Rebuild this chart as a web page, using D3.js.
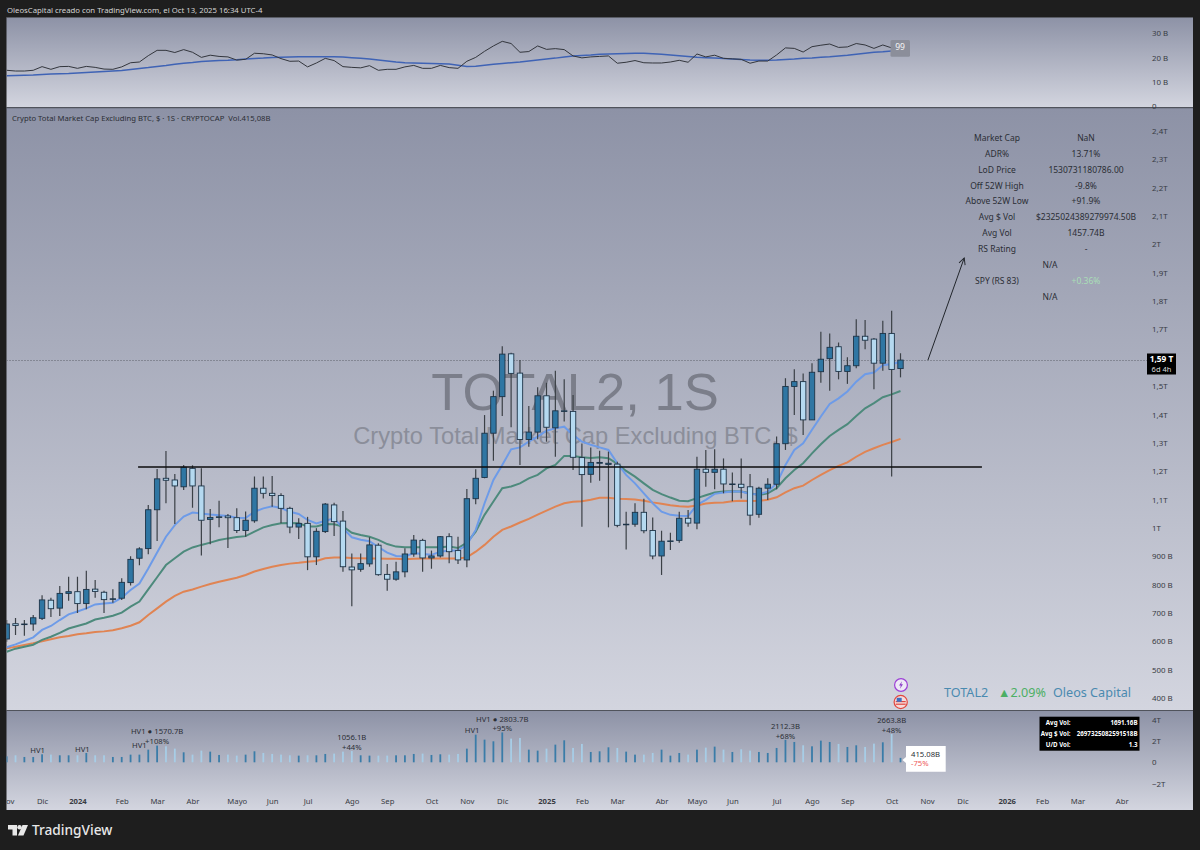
<!DOCTYPE html>
<html>
<head>
<meta charset="utf-8">
<script src="https://cdn.jsdelivr.net/npm/d3@7/dist/d3.min.js"></script>
<style>
html, body { margin: 0; padding: 0; background: #1e1e1e; }
svg { display: block; }
text { font-family: "Noto Sans", sans-serif; }
.axis path, .axis line { display: none; }
</style>
</head>
<body>
<div id="chart"></div>
<script>
// weekly candles, billions of dollars, first week is 2023-11-06
var opens = [608,662,660,661,681,745,717,769,775,733,784,773,749,752,807,893,927,1064,1175,1169,1145,1210,1148,1030,1038,1042,1036,991,1025,1140,1122,1114,1069,1003,1016,898,987,1081,1024,862,854,873,939,836,819,845,908,956,894,901,969,920,887,1103,1178,1334,1463,1614,1546,1312,1338,1466,1353,1411,1411,1248,1189,1228,1224,1225,1012,1013,1055,991,901,953,956,1034,1017,1207,1196,1207,1154,1154,1145,1048,1140,1154,1297,1499,1516,1381,1551,1597,1639,1552,1572,1676,1666,1581,1686,1562];
var highs = [675,682,675,693,762,754,795,828,828,849,816,778,784,822,900,932,1081,1208,1271,1190,1222,1221,1210,1067,1096,1049,1069,1058,1181,1181,1183,1122,1075,1034,1039,999,1088,1089,1060,910,910,967,946,873,881,928,975,962,920,971,981,969,1137,1207,1398,1484,1641,1618,1592,1430,1496,1512,1554,1524,1469,1298,1284,1272,1269,1233,1057,1087,1103,1037,990,983,1057,1063,1251,1275,1277,1245,1195,1245,1190,1145,1175,1322,1528,1560,1545,1581,1692,1686,1654,1602,1736,1733,1670,1731,1766,1616];
var lows = [598,622,620,637,675,686,689,743,700,713,754,700,736,746,797,868,907,954,1087,1014,1134,1071,903,942,1002,929,982,969,1018,1104,1075,1016,981,961,851,869,982,971,845,724,845,863,831,778,814,826,898,845,856,896,875,873,861,1083,1175,1237,1395,1355,1222,1286,1313,1304,1251,1375,1204,1004,1159,1166,1002,1002,924,1004,981,889,834,922,948,1004,995,1145,1136,1122,1094,1104,1009,1036,1098,1136,1275,1398,1328,1381,1512,1484,1524,1508,1563,1630,1489,1554,1181,1531];
var closes = [661,656,661,683,746,715,769,775,733,783,776,747,750,808,889,926,1064,1173,1168,1148,1214,1148,1027,1037,1039,1036,991,1027,1140,1122,1114,1069,1003,1016,898,988,1084,1022,863,852,874,940,835,819,845,908,957,894,901,969,916,887,1103,1175,1334,1463,1613,1545,1312,1338,1466,1355,1413,1413,1249,1188,1231,1231,1228,1009,1013,1055,990,901,953,954,1034,1017,1207,1196,1207,1155,1155,1143,1045,1140,1154,1297,1499,1516,1381,1549,1595,1637,1552,1572,1676,1662,1581,1686,1559,1592];

// moving averages on the price pane
var emaFast = [579,589,601,614,640,654,675,695,705,716,730,733,736,754,781,804,857,913,969,1010,1040,1054,1051,1047,1045,1042,1036,1035,1057,1069,1076,1070,1057,1049,1028,1016,1025,1034,999,967,958,953,932,913,901,899,911,908,905,916,920,920,940,993,1087,1169,1222,1277,1284,1304,1322,1343,1351,1357,1328,1304,1293,1284,1275,1228,1187,1157,1122,1087,1057,1046,1043,1042,1081,1099,1120,1125,1128,1128,1120,1119,1128,1157,1222,1275,1298,1346,1393,1437,1457,1481,1516,1542,1548,1574,1578,1585];
var emaMid = [563,574,581,588,605,616,630,645,654,663,677,683,690,701,722,740,783,826,869,893,916,931,940,948,957,963,968,971,987,1002,1010,1016,1017,1016,1005,1005,1014,1013,1005,983,975,969,958,943,934,932,932,932,932,932,934,929,948,987,1046,1093,1140,1146,1157,1175,1187,1210,1222,1254,1254,1249,1247,1249,1246,1226,1201,1181,1157,1134,1119,1107,1096,1094,1105,1115,1125,1128,1129,1128,1122,1116,1122,1140,1175,1204,1228,1263,1295,1324,1346,1366,1395,1422,1440,1461,1471,1483];
var emaSlow = [575,581,587,593,600,607,614,619,625,628,633,635,639,646,655,667,693,716,740,760,775,783,793,802,810,817,824,834,846,855,863,869,874,877,881,883,893,896,896,894,893,892,892,891,891,889,891,892,892,892,892,892,896,916,940,969,993,1005,1019,1032,1047,1061,1075,1087,1092,1094,1099,1106,1106,1103,1102,1100,1096,1090,1085,1080,1076,1075,1079,1086,1089,1090,1094,1096,1095,1096,1099,1108,1125,1140,1149,1169,1187,1204,1219,1231,1251,1268,1281,1293,1303,1314];

// volume in billions
var volumes = [563,657,500,500,751,720,657,657,657,876,657,657,500,500,720,720,1189,1570.7,1502,1283,939,720,1095,1001,689,720,626,720,1033,876,783,720,657,626,657,657,783,814,1000,1056.1,657,626,626,626,657,657,783,814,689,751,720,783,1283,2598,2128,1972,2803.7,2222,2285,1189,1096,1283,1659,2066,1346,1722,970,1033,1408,1346,1002,720,720,876,1189,626,876,720,1189,1377,1471,1189,970,1221,1096,970,876,1346,2112.3,1909,1596,1502,2035,1909,1722,1440,1596,1440,1753,1878,2663.8,415.08];

// top pane
var topLine = [14.8,14.5,14.5,14.8,16.3,15.2,16.3,16.4,15.6,16.4,16.0,15.3,15.2,16.2,17.9,18.2,20.8,23.0,23.0,22.1,23.3,22.2,20.1,21.0,20.5,20.3,19.0,19.3,21.8,21.6,21.1,19.6,18.5,18.6,16.2,17.8,19.7,18.8,16.3,16.0,15.8,16.7,14.8,15.2,15.2,16.2,16.8,15.6,15.6,16.8,15.9,15.6,18.5,20.1,22.6,24.8,26.7,25.8,22.2,22.5,24.8,23.4,23.7,23.3,20.7,19.9,20.3,20.5,20.7,17.7,18.1,18.8,17.9,17.8,17.8,18.2,18.9,18.1,21.5,20.3,21.0,19.7,19.5,19.3,17.7,18.6,18.6,21.1,24.0,23.8,22.3,24.5,25.1,25.6,24.2,24.4,25.8,25.2,23.8,25.2,24.0,23.7];
var topAvg = [12.6,12.7,12.8,12.9,13.1,13.3,13.4,13.5,13.7,13.9,14.1,14.3,14.5,14.7,15.1,15.5,15.9,16.4,16.8,17.3,17.7,18.0,18.4,18.6,18.8,18.9,19.1,19.4,19.6,19.8,20.1,20.2,20.3,20.4,20.4,20.4,20.4,20.4,20.3,20.0,19.7,19.4,19.0,18.6,18.2,17.9,17.8,17.7,17.6,17.5,17.4,16.9,16.4,16.5,16.9,17.3,17.6,17.9,18.2,18.6,19.0,19.4,19.8,20.3,20.7,20.9,21.1,21.4,21.5,21.6,21.7,21.8,21.8,21.6,21.4,21.1,20.8,20.5,20.2,20.0,19.8,19.6,19.4,19.2,19.0,18.9,18.9,19.0,19.2,19.4,19.7,19.9,20.2,20.4,20.7,21.0,21.4,21.8,22.2,22.4,22.7,22.9];

var priceTicks = [400,500,600,700,800,900,1000,1100,1200,1300,1400,1500,1700,1800,1900,2000,2100,2200,2300,2400];
var volTicks = [-2000,0,2000,4000];
var topTicks = [0,10,20,30];
var monthNames = ['Ene','Feb','Mar','Abr','Mayo','Jun','Jul','Ago','Sep','Oct','Nov','Dic'];

var tableLabels = ['Market Cap','ADR%','LoD Price','Off 52W High','Above 52W Low','Avg $ Vol','Avg Vol','RS Rating'];
var tableValues = ['NaN','13.71%','1530731180786.00','-9.8%','+91.9%','$2325024389279974.50B','1457.74B','-'];

// [week index, volume level the text sits on, text]
var volNotes = [
    [3.5, 1193, 'HV1'], [8.55, 1286, 'HV1'], [15, 1634, 'HV1'],
    [17, 2911, 'HV1 ● 1570.7B'], [17, 2038, '+108%'],
    [39, 2347, '1056.1B'], [39, 1474, '+44%'],
    [52.6, 3005, 'HV1'], [56, 4103, 'HV1 ● 2803.7B'], [56, 3192, '+95%'],
    [88, 3380, '2112.3B'], [88, 2507, '+68%'],
    [100, 3981, '2663.8B'], [100, 3071, '+48%']
];
var statsRows = [['Avg Vol:', '1691.16B'], ['Avg $ Vol:', '2697325082591518B'], ['U/D Vol:', '1.3']];

var levelLine = {from: 14.85, to: 110.2, value: 1215};
var arrowLine = {from: 104.1, to: 108.2, valueFrom: 1592, valueTo: 1952};
var lastPrice = 1592;

var width = 1200, height = 850;
var paneLeft = 6.5, paneRight = 1193;
var candleWidth = 5.4;
var upColor = '#2f76a3', downColor = '#b5d9f0', candleStroke = '#1d3347', wickColor = '#3b4046';
var smallFont = '7.7px', axisColor = '#383b43';

var firstWeek = new Date(2023, 10, 6);
var weeks = d3.range(opens.length).map(function (i) { return d3.timeMonday.offset(firstWeek, i); });

var x = d3.scaleLinear().domain([0, 101]).range([6.67, 900.5]);
function weekIndex(date) { return Math.round((date - firstWeek) / (7 * 864e5)); }

var yPrice = d3.scaleLinear().domain([400, 2400]).range([698, 131]);
var yVol = d3.scaleLinear().domain([-2000, 4000]).range([783.6, 719.7]);
var yTop = d3.scaleLinear().domain([0, 30]).range([106.3, 33.3]);

var svg = d3.select('#chart').append('svg').attr('width', width).attr('height', height);
svg.append('rect').attr('width', width).attr('height', height).style('fill', '#1e1e1e');

var defs = svg.append('defs');
var grad = defs.append('linearGradient').attr('id', 'paneFill').attr('x1', 0).attr('x2', 0).attr('y1', 0).attr('y2', 1);
grad.append('stop').attr('offset', '0%').attr('stop-color', '#8d92a6');
grad.append('stop').attr('offset', '100%').attr('stop-color', '#d3d5df');
defs.append('clipPath').attr('id', 'paneClip').append('rect').attr('x', paneLeft).attr('y', 0).attr('width', paneRight - paneLeft).attr('height', height);
var arrowHead = defs.append('marker').attr('id', 'arrowHead').attr('viewBox', '0 0 10 10').attr('refX', 9).attr('refY', 5)
    .attr('markerWidth', 8).attr('markerHeight', 8).attr('orient', 'auto-start-reverse');
arrowHead.append('path').attr('d', 'M1,1 L9,5 L1,9').style('fill', 'none').style('stroke', '#22262c').style('stroke-width', 1.2);

// panes
[[17.5, 107.5], [108, 710.5], [711, 810]].forEach(function (p) {
    svg.append('rect').attr('x', paneLeft).attr('y', p[0]).attr('width', paneRight - paneLeft).attr('height', p[1] - p[0]).style('fill', 'url(#paneFill)');
});
svg.append('line').attr('x1', paneLeft).attr('x2', paneRight).attr('y1', 17.5).attr('y2', 17.5).style('stroke', '#5a5d66');
svg.append('line').attr('x1', paneLeft).attr('x2', paneRight).attr('y1', 107.7).attr('y2', 107.7).style('stroke', '#50535c').style('stroke-width', 1.2);
svg.append('line').attr('x1', paneLeft).attr('x2', paneRight).attr('y1', 710.5).attr('y2', 710.5).style('stroke', '#50535c').style('stroke-width', 1.2);

var plot = svg.append('g').attr('clip-path', 'url(#paneClip)');

// top pane
var topLineGen = d3.line().x(function (d, i) { return x(i); }).y(function (d) { return yTop(d); });
plot.append('path').attr('d', topLineGen(topAvg)).style('fill', 'none').style('stroke', '#3f63b5').style('stroke-width', 1.5);
plot.append('path').attr('d', topLineGen(topLine)).style('fill', 'none').style('stroke', '#33363d').style('stroke-width', 1);
plot.append('rect').attr('x', 890.5).attr('y', 40).attr('width', 19.5).attr('height', 16.7).attr('rx', 1.5).style('fill', '#8b8e9a');
plot.append('text').attr('x', 900).attr('y', 50).attr('text-anchor', 'middle').style('font-size', '8.5px').style('fill', '#f4f4f4').text(d3.format('d')(99));

// watermark
plot.append('text').attr('x', 575).attr('y', 410).attr('text-anchor', 'middle').style('font-family', '"Liberation Sans"').style('font-size', '52.6px').style('fill', '#7b7e8a').text('TOTAL2, 1S');
plot.append('text').attr('x', 575.5).attr('y', 444).attr('text-anchor', 'middle').style('font-family', '"Liberation Sans"').style('font-size', '23.7px').style('fill', '#8b8e9a').text('Crypto Total Market Cap Excluding BTC, $');

// last price line
plot.append('line').attr('x1', paneLeft).attr('x2', 1147).attr('y1', Math.round(yPrice(lastPrice)) + 0.5).attr('y2', Math.round(yPrice(lastPrice)) + 0.5)
    .style('stroke', '#5d606a').style('stroke-dasharray', '1,2').style('stroke-width', 1);

// moving averages
var emaLine = d3.line().x(function (d, i) { return x(i); }).y(function (d) { return yPrice(d); }).curve(d3.curveLinear);
plot.append('path').attr('d', emaLine(emaSlow)).style('fill', 'none').style('stroke', '#e08453').style('stroke-width', 2);
plot.append('path').attr('d', emaLine(emaMid)).style('fill', 'none').style('stroke', '#4d8a7c').style('stroke-width', 2);
plot.append('path').attr('d', emaLine(emaFast)).style('fill', 'none').style('stroke', '#6d9be8').style('stroke-width', 2);

// candles
var candles = plot.selectAll('.candle').data(weeks).enter().append('g').attr('class', 'candle');
candles.append('line')
    .attr('x1', function (d, i) { return x(i); }).attr('x2', function (d, i) { return x(i); })
    .attr('y1', function (d, i) { return yPrice(highs[i]); }).attr('y2', function (d, i) { return yPrice(lows[i]); })
    .style('stroke', wickColor).style('stroke-width', 1.2);
candles.append('rect')
    .attr('x', function (d, i) { return x(i) - candleWidth / 2; })
    .attr('y', function (d, i) { return yPrice(Math.max(opens[i], closes[i])); })
    .attr('width', candleWidth)
    .attr('height', function (d, i) { return Math.max(0.6, Math.abs(yPrice(opens[i]) - yPrice(closes[i]))); })
    .style('fill', function (d, i) { return closes[i] >= opens[i] ? upColor : downColor; })
    .style('stroke', candleStroke).style('stroke-width', 0.9);

// horizontal level and arrow
plot.append('line').attr('x1', x(levelLine.from)).attr('x2', x(levelLine.to)).attr('y1', yPrice(levelLine.value)).attr('y2', yPrice(levelLine.value))
    .style('stroke', '#0c0c0e').style('stroke-width', 1.5);
plot.append('line').attr('x1', x(arrowLine.from)).attr('x2', x(arrowLine.to)).attr('y1', yPrice(arrowLine.valueFrom)).attr('y2', yPrice(arrowLine.valueTo))
    .style('stroke', '#22262c').style('stroke-width', 1).attr('marker-end', 'url(#arrowHead)');

// volume bars
plot.selectAll('.volBar').data(volumes).enter().append('rect').attr('class', 'volBar')
    .attr('x', function (d, i) { return x(i) - 0.9; })
    .attr('y', function (d) { return yVol(d); })
    .attr('width', 1.8)
    .attr('height', function (d) { return yVol(0) - yVol(d); })
    .style('fill', function (d, i) { return closes[i] >= opens[i] ? '#3a7ca8' : '#a7cde6'; });

plot.selectAll('.volNote').data(volNotes).enter().append('text').attr('class', 'volNote')
    .attr('x', function (d) { return x(d[0]); })
    .attr('y', function (d) { return yVol(d[1]) + 3; })
    .attr('text-anchor', 'middle').style('font-size', smallFont).style('fill', '#2c2f36')
    .text(function (d) { return d[2]; });

// volume tooltip
plot.append('path').attr('d', 'M906,746H945.7V771.7H906V763L902.5,760L906,757Z').style('fill', '#fff');
plot.append('text').attr('x', 911).attr('y', 756.5).style('font-size', smallFont).style('fill', '#2c2f36').text(volumes[volumes.length - 1].toFixed(2) + 'B');
plot.append('text').attr('x', 911).attr('y', 766).style('font-size', smallFont).style('fill', '#ee5a5a').text('-75%');

// stats box
var statsBox = plot.append('g');
statsBox.append('rect').attr('x', 1039.5).attr('y', 716.7).attr('width', 100).attr('height', 34).style('fill', '#000');
statsBox.selectAll('.statLabel').data(statsRows).enter().append('text')
    .attr('x', 1070.5).attr('y', function (d, i) { return 725 + i * 11.2; }).attr('text-anchor', 'end')
    .style('font-size', '6.2px').style('font-weight', 700).style('fill', '#fff').text(function (d) { return d[0]; });
statsBox.selectAll('.statValue').data(statsRows).enter().append('text')
    .attr('x', 1137.5).attr('y', function (d, i) { return 725 + i * 11.2; }).attr('text-anchor', 'end')
    .style('font-size', '6.2px').style('font-weight', 700).style('fill', '#fff').text(function (d) { return d[1]; });

// date axis, shared by the future weeks too
var monthTicks = d3.timeMonth.range(new Date(2023, 10, 1), new Date(2026, 4, 1)).map(function (m) {
    return weekIndex(d3.timeMonday.ceil(m));
});
var dateAxis = d3.axisBottom(x).tickValues(monthTicks).tickSize(0).tickFormat(function (i) {
    var d = d3.timeMonday.offset(firstWeek, i);
    return d.getMonth() === 0 ? String(d.getFullYear()) : monthNames[d.getMonth()];
});
var dateG = plot.append('g').attr('class', 'axis').attr('transform', 'translate(0,793)').call(dateAxis);
dateG.selectAll('text').attr('dy', 0).attr('y', 11).style('font-size', smallFont).style('fill', axisColor)
    .style('font-weight', function (i) { return d3.timeMonday.offset(firstWeek, i).getMonth() === 0 ? 700 : 400; });

// price axes
function priceFormat(v) {
    if (v >= 1000) return String(v / 1000).replace('.', ',') + 'T';
    return v + ' B';
}
var axisX = 1152;
var priceG = svg.append('g').attr('class', 'axis').attr('transform', 'translate(' + axisX + ',0)')
    .call(d3.axisRight(yPrice).tickValues(priceTicks).tickSize(0).tickPadding(0).tickFormat(priceFormat));
var volG = svg.append('g').attr('class', 'axis').attr('transform', 'translate(' + axisX + ',0)')
    .call(d3.axisRight(yVol).tickValues(volTicks).tickSize(0).tickPadding(0).tickFormat(function (v) {
        if (v === 0) return '0';
        return (v < 0 ? '−' : '') + Math.abs(v / 1000) + 'T';
    }));
var topG = svg.append('g').attr('class', 'axis').attr('transform', 'translate(' + axisX + ',0)')
    .call(d3.axisRight(yTop).tickValues(topTicks).tickSize(0).tickPadding(0).tickFormat(function (v) {
        return v === 0 ? '0' : v + ' B';
    }));
[priceG, volG, topG].forEach(function (g) {
    g.selectAll('text').style('font-size', '7.9px').style('fill', axisColor);
});

// last price tag
svg.append('rect').attr('x', 1147).attr('y', 353.5).attr('width', 29).attr('height', 21).style('fill', '#000');
svg.append('text').attr('x', 1161.5).attr('y', 362).attr('text-anchor', 'middle').style('font-size', '8.3px').style('font-weight', 700).style('fill', '#fff')
    .text((lastPrice / 1000).toFixed(2).replace('.', ',') + ' T');
svg.append('text').attr('x', 1161.5).attr('y', 371.5).attr('text-anchor', 'middle').style('font-size', '7.5px').style('fill', '#ddd').text('6d 4h');

// table on the right
var tableG = svg.append('g').style('font-size', '8.5px').style('fill', '#2b2e35').attr('text-anchor', 'middle');
tableG.selectAll('.tlabel').data(tableLabels).enter().append('text').attr('x', 997)
    .attr('y', function (d, i) { return 141 + i * 15.85; }).text(function (d) { return d; });
tableG.selectAll('.tvalue').data(tableValues).enter().append('text').attr('x', 1086)
    .attr('y', function (d, i) { return 141 + i * 15.85; }).text(function (d) { return d; });
tableG.append('text').attr('x', 1050).attr('y', 268).text('N/A');
tableG.append('text').attr('x', 997).attr('y', 284).text('SPY (RS 83)');
tableG.append('text').attr('x', 1086).attr('y', 284).style('fill', '#a9dfb6').text('+0.36%');
tableG.append('text').attr('x', 1050).attr('y', 300).text('N/A');

// legend bottom right
var legend = svg.append('text').attr('x', 944).attr('y', 697).style('font-size', '12.6px');
legend.append('tspan').style('fill', '#4a8ab0').text('TOTAL2');
legend.append('tspan').attr('x', 998).style('fill', '#4caf64').text('▲2.09%');
legend.append('tspan').attr('x', 1053).style('fill', '#4a8ab0').text('Oleos Capital');

// event icons
var bolt = svg.append('g').attr('transform', 'translate(901,685)');
bolt.append('circle').attr('r', 6.4).style('fill', '#eee9f6').style('stroke', '#9c3fd6').style('stroke-width', 1.2);
bolt.append('path').attr('d', 'M1,-3.8 L-2,0.6 H-0.2 L-1,3.8 L2,-0.8 H0.2 Z').style('fill', '#8b3ec8');
var flag = svg.append('g').attr('transform', 'translate(900.7,702)');
flag.append('circle').attr('r', 6.6).style('fill', '#f4dcdc').style('stroke', '#e2483f').style('stroke-width', 1.2);
flag.append('rect').attr('x', -5).attr('y', -1).attr('width', 10).attr('height', 1.2).style('fill', '#e2483f');
flag.append('rect').attr('x', -5).attr('y', 1.6).attr('width', 10).attr('height', 1.2).style('fill', '#e2483f');
flag.append('rect').attr('x', -4).attr('y', -4.2).attr('width', 5).attr('height', 4).style('fill', '#3f6fc0');

// header and footer
svg.append('text').attr('x', 7).attr('y', 12.5).style('font-size', '7.75px').style('fill', '#d4d4d4').text('OleosCapital creado con TradingView.com, el Oct 13, 2025 16:34 UTC-4');
svg.append('text').attr('x', 12).attr('y', 120.5).attr('xml:space', 'preserve').style('white-space', 'pre').style('font-size', '7.7px').style('fill', '#2b2e35').text('Crypto Total Market Cap Excluding BTC, $ · 1S · CRYPTOCAP  Vol.415,08B');
var logo = svg.append('g').attr('transform', 'translate(8,825)').style('fill', '#e8e8e8');
logo.append('path').attr('d', 'M0,0 H9 V10.5 H4.5 V4.5 H0 Z');
logo.append('circle').attr('cx', 11.5).attr('cy', 2.2).attr('r', 2.2);
logo.append('path').attr('d', 'M14.5,0 H20 L15.5,10.5 H10 Z');
svg.append('text').attr('x', 32).attr('y', 835).style('font-size', '13.7px').style('font-weight', 500).style('fill', '#e8e8e8').text('TradingView');
</script>
</body>
</html>
